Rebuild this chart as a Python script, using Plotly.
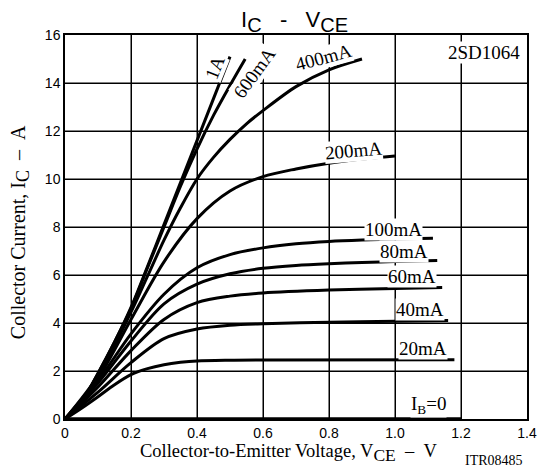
import plotly.graph_objects as go

# ---- data (VCE in V, IC in A) ----
x_1A = [0, 0.05, 0.1, 0.15, 0.2, 0.25, 0.3, 0.35, 0.4, 0.45, 0.5]
y_1A = [0, 0.7, 1.9, 3.2, 4.65, 6.35, 8.1, 9.85, 11.6, 13.35, 15.1]

x_600mA = [0, 0.05, 0.1, 0.15, 0.2, 0.25, 0.3, 0.35, 0.4, 0.45, 0.5, 0.546]
y_600mA = [0, 0.7, 1.9, 3.2, 4.6, 6.3, 8.0, 9.7, 11.25, 12.65, 13.9, 15.0]

x_400mA = [0, 0.1, 0.2, 0.25, 0.3, 0.35, 0.4, 0.45, 0.5, 0.55, 0.6, 0.7, 0.8, 0.9]
y_400mA = [0, 1.8, 4.45, 5.95, 7.45, 8.8, 10.0, 10.9, 11.65, 12.3, 12.85, 13.85, 14.55, 15.0]

x_200mA = [0, 0.1, 0.2, 0.3, 0.4, 0.5, 0.6, 0.7, 0.8, 0.9, 1.0]
y_200mA = [0, 1.7, 4.15, 6.55, 8.35, 9.5, 10.1, 10.42, 10.66, 10.83, 10.96]

x_100mA = [0, 0.1, 0.2, 0.3, 0.4, 0.5, 0.6, 0.7, 0.8, 0.9, 1.0, 1.115]
y_100mA = [0, 1.6, 3.55, 5.2, 6.3, 6.85, 7.13, 7.3, 7.4, 7.46, 7.5, 7.53]

x_80mA = [0, 0.1, 0.2, 0.3, 0.4, 0.5, 0.6, 0.7, 0.8, 0.9, 1.0, 1.128]
y_80mA = [0, 1.5, 3.25, 4.8, 5.62, 6.05, 6.28, 6.4, 6.47, 6.52, 6.56, 6.6]

x_60mA = [0, 0.1, 0.2, 0.3, 0.4, 0.5, 0.6, 0.8, 1.0, 1.143]
y_60mA = [0, 1.33, 2.85, 4.15, 4.85, 5.12, 5.25, 5.37, 5.44, 5.48]

x_40mA = [0, 0.1, 0.2, 0.3, 0.4, 0.5, 0.6, 0.8, 1.0, 1.161]
y_40mA = [0, 1.12, 2.35, 3.35, 3.75, 3.91, 3.97, 4.03, 4.07, 4.1]

x_20mA = [0, 0.05, 0.1, 0.15, 0.2, 0.25, 0.3, 0.35, 0.4, 0.5, 0.6, 1.18]
y_20mA = [0, 0.45, 0.93, 1.43, 1.85, 2.1, 2.26, 2.36, 2.42, 2.45, 2.46, 2.47]

x_0 = [0, 1.2]
y_0 = [0, 0]

x_ticks = [0, 0.2, 0.4, 0.6, 0.8, 1.0, 1.2, 1.4]
x_ticktext = ["0", "0.2", "0.4", "0.6", "0.8", "1.0", "1.2", "1.4"]
y_ticks = [0, 2, 4, 6, 8, 10, 12, 14, 16]

series = [
    (x_1A, y_1A), (x_600mA, y_600mA), (x_400mA, y_400mA), (x_200mA, y_200mA),
    (x_100mA, y_100mA), (x_80mA, y_80mA), (x_60mA, y_60mA), (x_40mA, y_40mA),
    (x_20mA, y_20mA),
]

# curve labels: text, x, y, angle
labels = [
    ("1A", 0.456, 14.67, -68),
    ("600mA", 0.575, 14.42, -54),
    ("400mA", 0.782, 15.06, -15),
    ("200mA", 0.874, 11.17, -5),
    ("100mA", 0.994, 7.91, 0),
    ("80mA", 1.028, 6.97, 0),
    ("60mA", 1.052, 5.94, 0),
    ("40mA", 1.075, 4.55, 0),
    ("20mA", 1.086, 2.92, 0),
    ("I<sub>B</sub>=0", 1.10, 0.6, 0),
    ("2SD1064", 1.269, 15.27, 0),
]

SERIF = "Liberation Serif"
SANS = "Liberation Sans"

# page body has an 8px default margin; the figure is sized to fill the rest
OFF = 8
W, H = 549 - OFF, 467 - OFF
PL, PR, PT, PB = 65, 529, 35, 419   # plot area on the page
L, R, T, B = PL - OFF, 549 - PR, PT - OFF, 467 - PB

def px(xp):
    return (xp - PL) / (PR - PL)

def py(yp):
    return (PB - yp) / (PB - PT)

fig = go.Figure()
for xs, ys in series:
    fig.add_trace(go.Scatter(x=xs, y=ys, mode="lines",
                             line=dict(color="black", width=3, shape="spline", smoothing=0.9),
                             hoverinfo="skip", showlegend=False))
fig.add_trace(go.Scatter(x=x_0, y=y_0, mode="lines",
                         line=dict(color="black", width=3.5),
                         hoverinfo="skip", showlegend=False))

# grid lines built from the tick arrays
shapes = []
for v in x_ticks[1:-1]:
    shapes.append(dict(type="line", xref="x", yref="paper", x0=v, x1=v, y0=0, y1=1,
                       line=dict(color="black", width=1), layer="below"))
for v in y_ticks[1:-1]:
    shapes.append(dict(type="line", xref="paper", yref="y", x0=0, x1=1, y0=v, y1=v,
                       line=dict(color="black", width=1), layer="below"))

annotations = []
for txt, ax, ay, ang in labels:
    annotations.append(dict(x=ax, y=ay, xref="x", yref="y", text=txt, showarrow=False,
                            textangle=ang, bgcolor="white", borderpad=0,
                            xanchor="center", yanchor="middle",
                            font=dict(family=SERIF, size=19, color="black")))

annotations += [
    dict(x=px(295), y=py(21), xref="paper", yref="paper", xanchor="center", yanchor="middle",
         text="I<sub><span style='font-size:20px'>C</span></sub>&nbsp;&nbsp;&nbsp;-&nbsp;&nbsp;&nbsp;V<sub><span style='font-size:20px'>CE</span></sub>",
         showarrow=False, font=dict(family=SANS, size=22, color="black")),
    dict(x=px(290), y=py(453), xref="paper", yref="paper", xanchor="center", yanchor="middle",
         text="Collector-to-Emitter Voltage, V<sub><span style='font-size:17.5px'>CE</span></sub>&nbsp;&nbsp;\u2013&nbsp;&nbsp;V",
         showarrow=False, font=dict(family=SERIF, size=18.5, color="black")),
    dict(x=px(496), y=py(460), xref="paper", yref="paper", xanchor="center", yanchor="middle",
         text="ITR08485", showarrow=False,
         font=dict(family=SERIF, size=14, color="black")),
    dict(x=px(20), y=py(232), xref="paper", yref="paper", xanchor="center", yanchor="middle",
         text="Collector Current, I<sub><span style='font-size:18px'>C</span></sub>&nbsp;&nbsp;\u2013&nbsp;&nbsp;A",
         showarrow=False, textangle=-90,
         font=dict(family=SERIF, size=20, color="black")),
]

fig.update_layout(
    width=W, height=H,
    margin=dict(l=L, r=R, t=T, b=B),
    paper_bgcolor="white", plot_bgcolor="white",
    annotations=annotations, shapes=shapes,
    xaxis=dict(range=[0, 1.4], tickmode="array", tickvals=x_ticks, ticktext=x_ticktext,
               showgrid=True, gridcolor="black", gridwidth=1, zeroline=False,
               showline=True, linecolor="black", linewidth=1.5, mirror=True,
               ticks="", tickfont=dict(family=SANS, size=14, color="black")),
    yaxis=dict(range=[0, 16], tickmode="array", tickvals=y_ticks,
               showgrid=True, gridcolor="black", gridwidth=1, zeroline=False,
               showline=True, linecolor="black", linewidth=1.5, mirror=True,
               ticks="", tickfont=dict(family=SANS, size=14, color="black")),
)

fig.write_html("out.html")
